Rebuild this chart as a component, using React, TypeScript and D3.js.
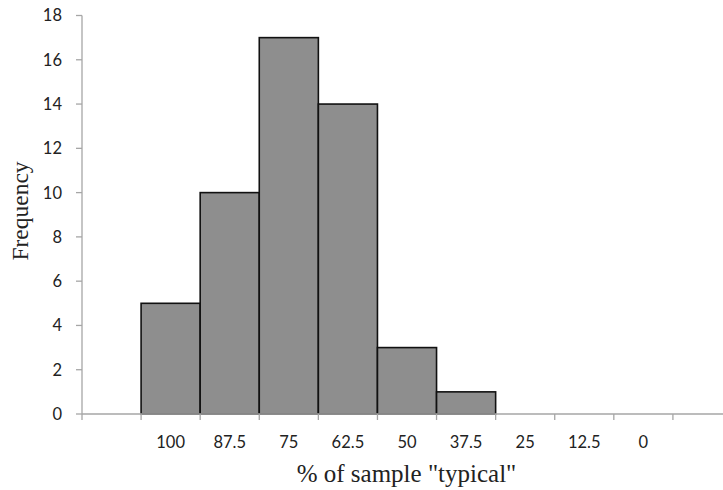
import React from "react";
import * as d3 from "d3";

const categories = ["", "100", "87.5", "75", "62.5", "50", "37.5", "25", "12.5", "0", " "];
const frequencies = [0, 5, 10, 17, 14, 3, 1, 0, 0, 0, 0];
const yTicks = [0, 2, 4, 6, 8, 10, 12, 14, 16, 18];

const W = 723;
const H = 490;
const left = 82;
const right = 732;
const top = 15.5;
const bottom = 414;

export default function App() {
  const x = d3.scaleBand<string>().domain(categories).range([left, right]).padding(0);
  const y = d3.scaleLinear().domain([0, 18]).range([bottom, top]);
  const bw = x.bandwidth();
  const axisColor = "#a6a6a6";
  const labelFont = "Lato, 'Open Sans', sans-serif";
  const titleFont = "'Liberation Serif', 'DejaVu Serif', serif";

  return (
    <svg width={W} height={H} style={{ position: "absolute", left: 0, top: 0, background: "#fff" }}>
      {/* bars */}
      {categories.map((c, i) =>
        frequencies[i] > 0 ? (
          <rect
            key={"b" + i}
            x={x(c)!}
            y={y(frequencies[i])}
            width={bw}
            height={bottom - y(frequencies[i])}
            fill="#8e8e8e"
            stroke="#111"
            strokeWidth={1.6}
          />
        ) : null
      )}
      {/* y axis */}
      <line x1={left} x2={left} y1={top} y2={bottom} stroke={axisColor} strokeWidth={1.3} />
      {yTicks.map((t) => (
        <g key={"y" + t}>
          <line x1={left - 6} x2={left} y1={y(t)} y2={y(t)} stroke={axisColor} strokeWidth={1.3} />
          <text x={62} y={y(t)} dy="0.36em" textAnchor="end" fontFamily={labelFont} fontSize={16.5} fill="#222">
            {t}
          </text>
        </g>
      ))}
      {/* x axis */}
      <line x1={left} x2={W} y1={bottom} y2={bottom} stroke={axisColor} strokeWidth={1.3} />
      {categories.map((c, i) => (
        <g key={"x" + i}>
          <line x1={x(c)!} x2={x(c)!} y1={bottom} y2={bottom + 6} stroke={axisColor} strokeWidth={1.3} />
          <text x={x(c)! + bw / 2} y={448} textAnchor="middle" fontFamily={labelFont} fontSize={16.5} fill="#222">
            {c.trim()}
          </text>
        </g>
      ))}
      {/* axis titles */}
      <text x={406.5} y={482} textAnchor="middle" fontFamily={titleFont} fontSize={25} fill="#222">
        % of sample "typical"
      </text>
      <text
        transform={`translate(28, 211) rotate(-90)`}
        textAnchor="middle"
        fontFamily={titleFont}
        fontSize={23.5}
        fill="#222"
      >
        Frequency
      </text>
    </svg>
  );
}
